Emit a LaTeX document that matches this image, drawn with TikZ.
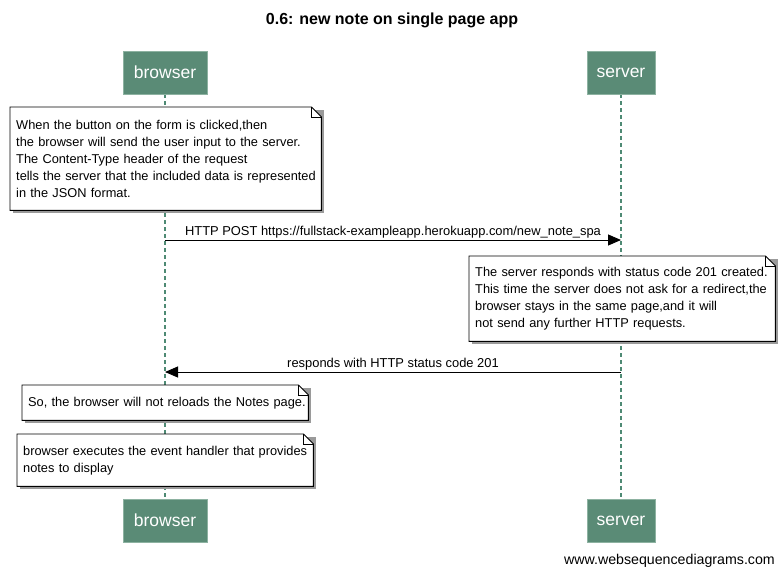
\documentclass[tikz,border=0pt]{standalone}
\usepackage{fontspec}
\setmainfont{Liberation Sans}
\usetikzlibrary{arrows.meta}
\pgfdeclarelayer{bg}
\pgfsetlayers{bg,main}
\definecolor{actorfill}{HTML}{5A8B76}
\definecolor{actorline}{HTML}{8DB2A1}
\definecolor{lifeline}{HTML}{4E8A74}
\definecolor{shadowc}{HTML}{9A9A9A}
\tikzset{
  actor/.style={fill=actorfill, draw=actorline, line width=0.8pt, text=white,
    font=\fontsize{17.5}{17.5}\selectfont, minimum height=43pt, inner sep=0pt},
  life/.style={draw=lifeline, line width=2.6pt, dash pattern=on 4pt off 3pt},
  notetext/.style={anchor=north west, align=left, inner xsep=6pt, inner ysep=0pt,
    font=\fontsize{12.8}{17}\selectfont},
  noteframe/.style={draw=black, fill=white, line width=0.9pt},
  noteshadow/.style={fill=shadowc},
  msg/.style={draw=black, line width=1pt, -{Triangle[length=13pt,width=11pt]}},
  msglabel/.style={font=\fontsize{12.9}{14}\selectfont, inner sep=1.5pt},
}
\newcommand{\notedraw}[1]{%
  \begin{pgfonlayer}{bg}
    \fill[noteshadow] ([shift={(3pt,-3pt)}]#1.north west) rectangle ([shift={(3pt,-3pt)}]#1.south east);
    \path[noteframe] (#1.north west) -- ([xshift=-10pt]#1.north east) -- ([yshift=-10pt]#1.north east)
      -- (#1.south east) -- (#1.south west) -- cycle;
    \draw[line width=0.7pt] ([xshift=-10pt]#1.north east) |- ([yshift=-10pt]#1.north east);
  \end{pgfonlayer}}
\newcommand{\noteline}[1]{\mbox{#1}}
\begin{document}
\begin{tikzpicture}[x=1pt,y=-1pt]
\useasboundingbox (0,0) rectangle (783,576);
\node[font=\bfseries\fontsize{16}{18}\selectfont] (title) at (392,20) {0.6: new note on single page app};
% actors
\node[actor, minimum width=84pt] (bt) at (165,72.5) {browser};
\node[actor, minimum width=68pt] (st) at (621,72.5) {server};
\node[actor, minimum width=84pt] (bb) at (165,520.5) {browser};
\node[actor, minimum width=68pt] (sb) at (621,520.5) {server};
\begin{pgfonlayer}{bg}
  \draw[life] (bt.south) -- (bb.north);
  \draw[life] (st.south) -- (sb.north);
\end{pgfonlayer}
% note 1
\node[notetext, text width=299pt, minimum height=103pt] (n1) at (10,107)
  {\noteline{When the button on the form is clicked,then}\\
   \noteline{the browser will send the user input to the server.}\\
   \noteline{The Content-Type header of the request}\\
   \noteline{tells the server that the included data is represented}\\
   \noteline{in the JSON format.}};
\notedraw{n1}
% message 1
\coordinate (m1s) at (165,240);
\coordinate (m1e) at (621,240);
\draw[msg] (m1s) -- node[msglabel, above] (l1) {HTTP POST https://fullstack-exampleapp.herokuapp.com/new\_note\_spa} (m1e);
% note 2
\node[notetext, text width=294pt, minimum height=85pt] (n2) at (469,256)
  {\noteline{The server responds with status code 201 created.}\\
   \noteline{This time the server does not ask for a redirect,the}\\
   \noteline{browser stays in the same page,and it will}\\
   \noteline{not send any further HTTP requests.}};
\notedraw{n2}
% message 2
\coordinate (m2s) at (621,372);
\coordinate (m2e) at (165,372);
\draw[msg] (m2s) -- node[msglabel, above] (l2) {responds with HTTP status code 201} (m2e);
% note 3
\node[notetext, text width=274pt, minimum height=35pt] (n3) at (22,385)
  {\noteline{So, the browser will not reloads the Notes page.}};
\notedraw{n3}
% note 4
\node[notetext, text width=284pt, minimum height=52pt] (n4) at (17,434)
  {\noteline{browser executes the event handler that provides}\\
   \noteline{notes to display}};
\notedraw{n4}
% footer
\node[anchor=east, font=\fontsize{14.2}{16}\selectfont, inner sep=0pt] (foot) at (775,561) {www.websequencediagrams.com};
\end{tikzpicture}
\end{document}
